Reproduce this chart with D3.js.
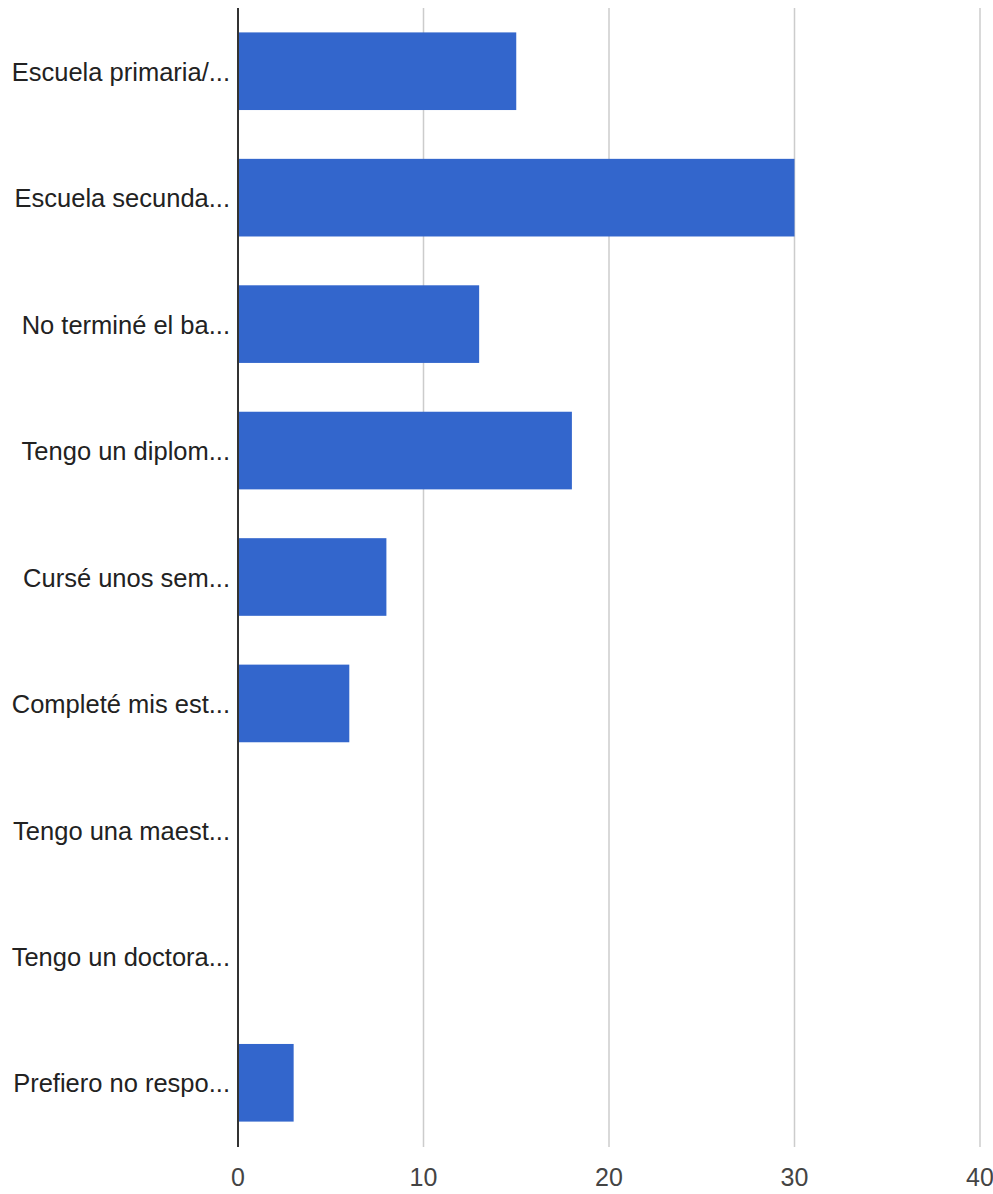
<!DOCTYPE html>
<html><head><meta charset="utf-8">
<script src="https://cdn.jsdelivr.net/npm/d3@7"></script>
<style>body{margin:0;background:#fff}svg{display:block}</style>
</head><body>
<script>
const categories = ["Escuela primaria/...","Escuela secunda...","No terminé el ba...","Tengo un diplom...","Cursé unos sem...","Completé mis est...","Tengo una maest...","Tengo un doctora...","Prefiero no respo..."];
const values = [15,30,13,18,8,6,0,0,3];
const xTicks = [0,10,20,30,40];

const W=993,H=1194;
const svg=d3.select("body").append("svg").attr("width",W).attr("height",H);
const x=d3.scaleLinear().domain([0,40]).range([238,980]);
const y=d3.scaleBand().domain(categories).range([8,1146]).paddingInner(0.386).paddingOuter(0.193);

svg.append("g").selectAll("line").data(xTicks.filter(d=>d>0)).join("line")
  .attr("x1",d=>x(d)).attr("x2",d=>x(d)).attr("y1",8).attr("y2",1147)
  .attr("stroke","#cccccc").attr("stroke-width",1.5);

svg.append("g").selectAll("rect").data(values).join("rect")
  .attr("x",x(0)).attr("y",(d,i)=>y(categories[i]))
  .attr("width",d=>x(d)-x(0)).attr("height",y.bandwidth())
  .attr("fill","#3366cc");

svg.append("line").attr("x1",x(0)).attr("x2",x(0)).attr("y1",8).attr("y2",1147)
  .attr("stroke","#333").attr("stroke-width",2);

svg.append("g").selectAll("text").data(categories).join("text")
  .attr("x",230).attr("y",d=>y(d)+y.bandwidth()/2).attr("dy","0.38em")
  .attr("text-anchor","end").style("font-family","'Liberation Sans', Arial, sans-serif")
  .attr("font-size",25.5).attr("fill","#222").text(d=>d);

svg.append("g").selectAll("text").data(xTicks).join("text")
  .attr("x",d=>x(d)).attr("y",1186).attr("text-anchor","middle")
  .style("font-family","'Liberation Sans', Arial, sans-serif").attr("font-size",25)
  .attr("fill","#444").text(d=>d);
</script>
</body></html>
